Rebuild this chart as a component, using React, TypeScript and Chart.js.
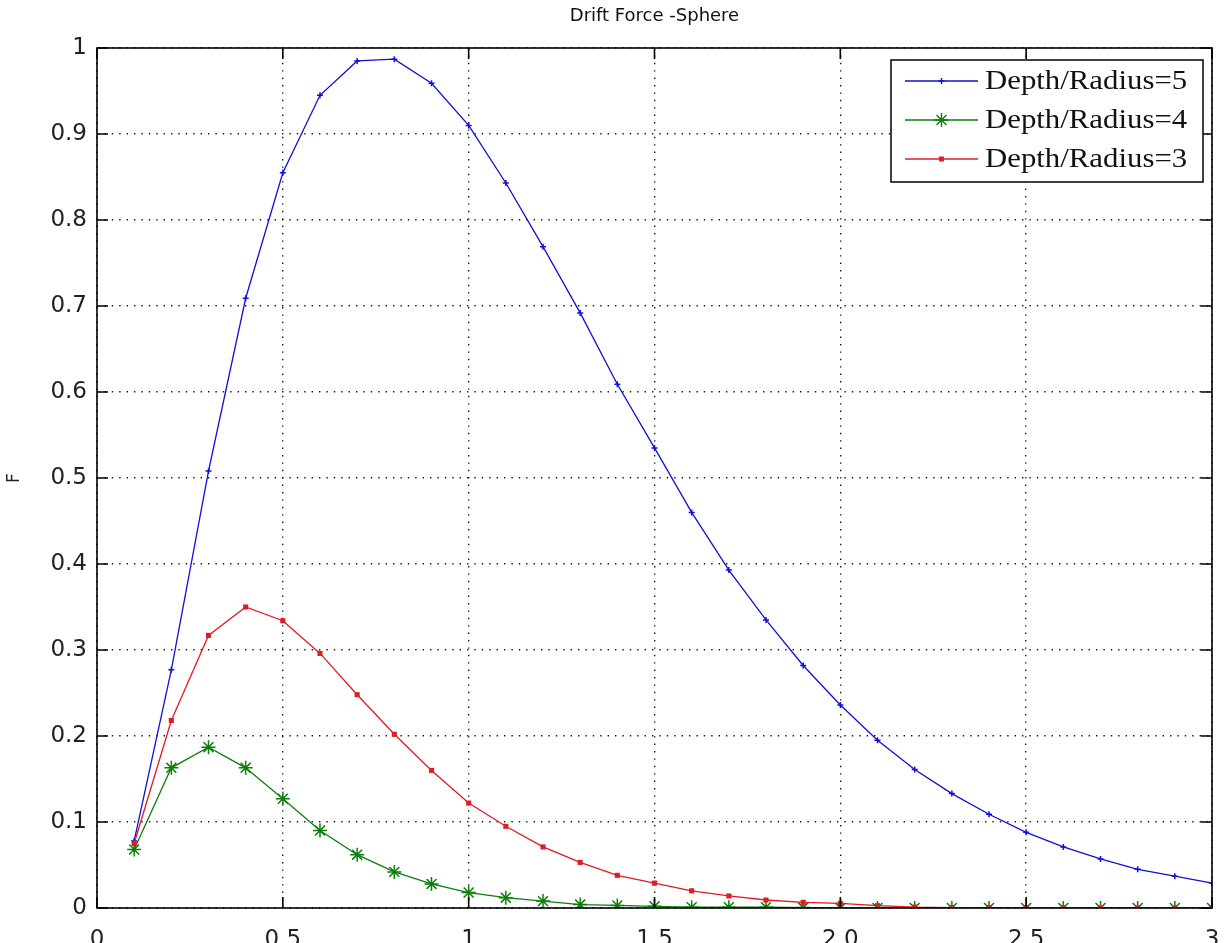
import React, { useEffect, useRef } from "react";
import { Chart, registerables } from "chart.js";

Chart.register(...registerables);

// Wave frequency samples
const xValues = [
  0.1, 0.2, 0.3, 0.4, 0.5, 0.6, 0.7, 0.8, 0.9, 1.0,
  1.1, 1.2, 1.3, 1.4, 1.5, 1.6, 1.7, 1.8, 1.9, 2.0,
  2.1, 2.2, 2.3, 2.4, 2.5, 2.6, 2.7, 2.8, 2.9, 3.0,
];

// Drift force for Depth/Radius = 5
const depth5 = [
  0.078, 0.277, 0.508, 0.709, 0.855, 0.945, 0.985, 0.987, 0.959, 0.91,
  0.843, 0.769, 0.692, 0.609, 0.535, 0.46, 0.393, 0.335, 0.282, 0.236,
  0.195, 0.161, 0.133, 0.109, 0.088, 0.071, 0.057, 0.045, 0.037, 0.029,
];

// Drift force for Depth/Radius = 4
const depth4 = [
  0.068, 0.163, 0.187, 0.163, 0.127, 0.09, 0.062, 0.042, 0.028, 0.018,
  0.012, 0.008, 0.004, 0.003, 0.002, 0.001, 0.001, 0.001, 0.0005, 0,
  0, 0, 0, 0, 0, 0, 0, 0, 0, 0,
];

// Drift force for Depth/Radius = 3
const depth3 = [
  0.075, 0.218, 0.317, 0.35, 0.334, 0.296, 0.248, 0.202, 0.16, 0.122,
  0.095, 0.071, 0.053, 0.038, 0.029, 0.02, 0.014, 0.0093, 0.0066, 0.0054,
  0.0027, 0.001, 0.0005, 0.0003, 0.0002, 0.0001, 0, 0, 0, 0,
];

const seriesLabels = ["Depth/Radius=5", "Depth/Radius=4", "Depth/Radius=3"];
const xTickValues = [0, 0.5, 1, 1.5, 2, 2.5, 3];
const xTickLabels = ["0", "0.5", "1", "1.5", "2.0", "2.5", "3"];
const yTickValues = [0, 0.1, 0.2, 0.3, 0.4, 0.5, 0.6, 0.7, 0.8, 0.9, 1];
const yTickLabels = ["0", "0.1", "0.2", "0.3", "0.4", "0.5", "0.6", "0.7", "0.8", "0.9", "1"];
const titleText = "Drift Force -Sphere";

const BLUE = "#1010d8";
const GREEN = "#0a7f0a";
const RED = "#e01b24";

function drawMarker(ctx: CanvasRenderingContext2D, style: string, x: number, y: number, color: string) {
  ctx.save();
  ctx.strokeStyle = color;
  ctx.fillStyle = color;
  ctx.lineWidth = 1.4;
  ctx.beginPath();
  if (style === "cross") {
    ctx.moveTo(x - 3, y);
    ctx.lineTo(x + 3, y);
    ctx.moveTo(x, y - 3);
    ctx.lineTo(x, y + 3);
    ctx.stroke();
  } else if (style === "star") {
    const r = 7;
    ctx.moveTo(x - r, y);
    ctx.lineTo(x + r, y);
    ctx.moveTo(x, y - r);
    ctx.lineTo(x, y + r);
    const d = r * Math.SQRT1_2;
    ctx.moveTo(x - d, y - d);
    ctx.lineTo(x + d, y + d);
    ctx.moveTo(x - d, y + d);
    ctx.lineTo(x + d, y - d);
    ctx.stroke();
  } else {
    ctx.fillRect(x - 2.5, y - 2.5, 5, 5);
  }
  ctx.restore();
}

// Frame, inward ticks on all four sides, title and the in-plot legend
const decorations = {
  id: "matlabDecorations",
  afterDraw(chart: any) {
    const { ctx, chartArea } = chart;
    const { left, right, top, bottom } = chartArea;
    const xs = chart.scales.x;
    const ys = chart.scales.y;
    ctx.save();
    ctx.strokeStyle = "#000";
    ctx.lineWidth = 1.6;
    ctx.strokeRect(left, top, right - left, bottom - top);

    const tl = 11;
    ctx.beginPath();
    xTickValues.forEach((v) => {
      const px = xs.getPixelForValue(v);
      ctx.moveTo(px, bottom);
      ctx.lineTo(px, bottom - tl);
      ctx.moveTo(px, top);
      ctx.lineTo(px, top + tl);
    });
    yTickValues.forEach((v) => {
      const py = ys.getPixelForValue(v);
      ctx.moveTo(left, py);
      ctx.lineTo(left + tl, py);
      ctx.moveTo(right, py);
      ctx.lineTo(right - tl, py);
    });
    ctx.stroke();

    // title
    ctx.fillStyle = "#111";
    ctx.font = "18px 'DejaVu Sans'";
    ctx.textAlign = "center";
    ctx.textBaseline = "middle";
    ctx.fillText(titleText, (left + right) / 2, 16);

    // legend
    const bx = 891;
    const by = 60;
    const bw = 312;
    const bh = 122;
    ctx.fillStyle = "#fff";
    ctx.fillRect(bx, by, bw, bh);
    ctx.strokeStyle = "#000";
    ctx.lineWidth = 1.5;
    ctx.strokeRect(bx, by, bw, bh);
    const rows = [
      { label: seriesLabels[0], color: BLUE, style: "cross" },
      { label: seriesLabels[1], color: GREEN, style: "star" },
      { label: seriesLabels[2], color: RED, style: "rect" },
    ];
    rows.forEach((r, i) => {
      const cy = by + 21 + i * 39;
      ctx.strokeStyle = r.color;
      ctx.lineWidth = 1.3;
      ctx.beginPath();
      ctx.moveTo(bx + 14, cy);
      ctx.lineTo(bx + 87, cy);
      ctx.stroke();
      drawMarker(ctx, r.style, bx + 50.5, cy, r.color);
      ctx.save();
      ctx.translate(bx + 94, cy);
      ctx.scale(1.1, 1);
      ctx.fillStyle = "#111";
      ctx.font = "28px 'Liberation Serif'";
      ctx.textAlign = "left";
      ctx.textBaseline = "middle";
      ctx.fillText(r.label, 0, 1);
      ctx.restore();
    });
    ctx.restore();
  },
};

export default function App() {
  const canvasRef = useRef<HTMLCanvasElement | null>(null);

  useEffect(() => {
    const canvas = canvasRef.current;
    if (!canvas) return;
    const toPoints = (ys: number[]) => xValues.map((x, i) => ({ x, y: ys[i] }));

    const chart = new Chart(canvas, {
      type: "line",
      data: {
        datasets: [
          {
            label: seriesLabels[0],
            data: toPoints(depth5),
            borderColor: BLUE,
            backgroundColor: BLUE,
            borderWidth: 1.3,
            pointStyle: "cross",
            pointRadius: 3,
            pointBorderWidth: 1.5,
            tension: 0,
            order: 2,
          },
          {
            label: seriesLabels[1],
            data: toPoints(depth4),
            borderColor: GREEN,
            backgroundColor: GREEN,
            borderWidth: 1.3,
            pointStyle: "star",
            pointRadius: 7,
            pointBorderWidth: 1.5,
            tension: 0,
            order: 1,
          },
          {
            label: seriesLabels[2],
            data: toPoints(depth3),
            borderColor: RED,
            backgroundColor: RED,
            borderWidth: 1.3,
            pointStyle: "rect",
            pointRadius: 3.6,
            pointBorderWidth: 0,
            tension: 0,
            order: 0,
          },
        ],
      },
      options: {
        responsive: false,
        animation: false,
        events: [],
        layout: { padding: { top: 48, right: 18, left: 0, bottom: 0 } },
        plugins: {
          legend: { display: false },
          tooltip: { enabled: false },
          title: { display: false },
        },
        scales: {
          x: {
            type: "linear",
            min: 0,
            max: 3,
            afterFit: (s: any) => {
              s.height = 35;
              s.paddingLeft = 0;
              s.paddingRight = 0;
            },
            afterBuildTicks: (s: any) => {
              s.ticks = xTickValues.map((v) => ({ value: v }));
            },
            ticks: {
              callback: (_v: any, i: number) => xTickLabels[i],
              font: { family: "'DejaVu Sans'", size: 23 },
              color: "#222",
              padding: 18,
              maxRotation: 0,
              autoSkip: false,
            },
            grid: { color: "rgba(0,0,0,0.9)", lineWidth: 1.4, drawTicks: false },
            border: { display: false, dash: [1.4, 6] },
          },
          y: {
            type: "linear",
            min: 0,
            max: 1,
            afterFit: (s: any) => {
              s.width = 97;
              s.paddingTop = 0;
              s.paddingBottom = 0;
            },
            afterBuildTicks: (s: any) => {
              s.ticks = yTickValues.map((v) => ({ value: v }));
            },
            ticks: {
              callback: (_v: any, i: number) => yTickLabels[i],
              font: { family: "'DejaVu Sans'", size: 23 },
              color: "#222",
              padding: 10,
              autoSkip: false,
            },
            title: {
              display: true,
              text: "F",
              font: { family: "'DejaVu Sans'", size: 17 },
              color: "#222",
              padding: { top: 4, bottom: 0 },
            },
            grid: { color: "rgba(0,0,0,0.9)", lineWidth: 1.4, drawTicks: false },
            border: { display: false, dash: [1.4, 6] },
          },
        },
      },
      plugins: [decorations],
    });

    return () => chart.destroy();
  }, []);

  return (
    <div style={{ position: "fixed", left: 0, top: 0, width: 1230, height: 943, background: "#fff" }}>
      <canvas ref={canvasRef} width={1230} height={943} style={{ display: "block" }} />
    </div>
  );
}
